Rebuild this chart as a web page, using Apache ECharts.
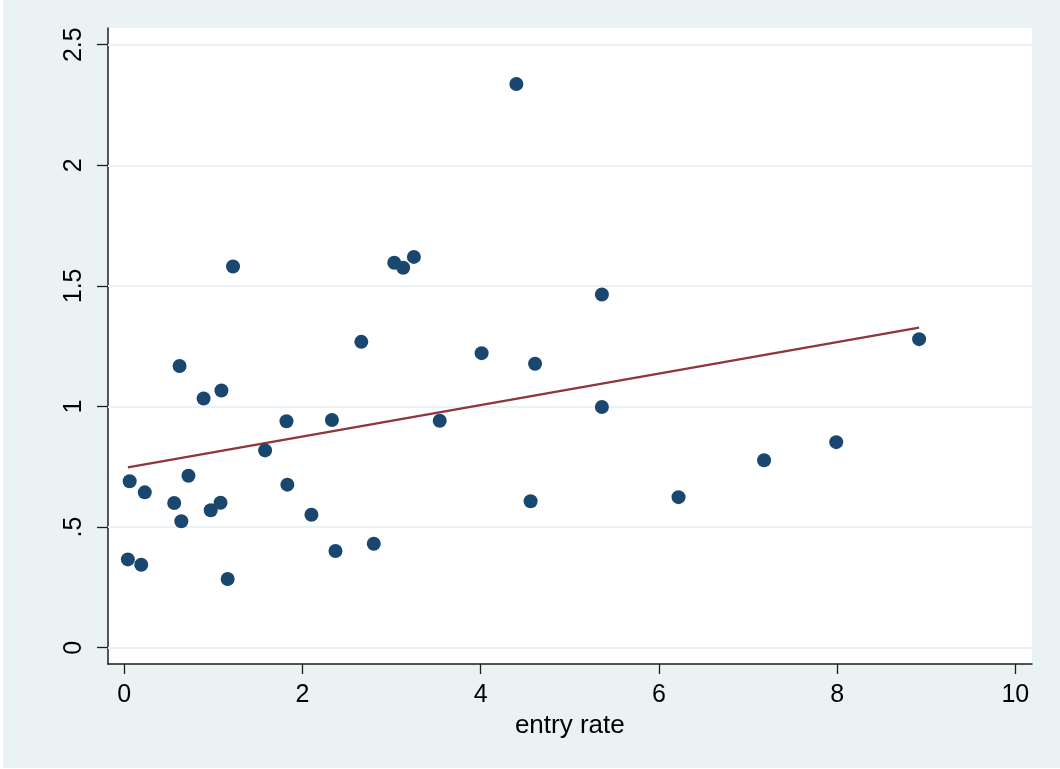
<!DOCTYPE html>
<html>
<head>
<meta charset="utf-8">
<script src="https://cdn.jsdelivr.net/npm/echarts@6/dist/echarts.min.js"></script>
<style>
html,body{margin:0;padding:0;background:#ffffff;}
#chart{position:absolute;left:3px;top:0;width:1057px;height:768px;}
</style>
</head>
<body>
<div id="chart"></div>
<script>
// Data
var entryRate = [0.04, 0.06, 0.19, 0.23, 0.56, 0.62, 0.64, 0.72, 0.89, 0.97, 1.08, 1.09, 1.16, 1.22, 1.58, 1.82, 1.83, 2.10, 2.33, 2.37, 2.66, 2.80, 3.03, 3.13, 3.25, 3.54, 4.01, 4.40, 4.56, 4.61, 5.36, 5.36, 6.22, 7.18, 7.99, 8.92];
var outcome   = [0.366, 0.690, 0.344, 0.644, 0.600, 1.168, 0.524, 0.713, 1.033, 0.570, 0.601, 1.066, 0.285, 1.580, 0.818, 0.939, 0.676, 0.551, 0.944, 0.401, 1.268, 0.431, 1.596, 1.575, 1.620, 0.941, 1.221, 2.337, 0.607, 1.177, 1.464, 0.998, 0.624, 0.777, 0.852, 1.279];
var fitX = [0.04, 8.92];
var fitY = [0.748, 1.327];
var xTicks = [0, 2, 4, 6, 8, 10];
var yTicks = [0, 0.5, 1, 1.5, 2, 2.5];
var yTickLabels = ['0', '.5', '1', '1.5', '2', '2.5'];
var xTitle = 'entry rate';

var points = entryRate.map(function (x, i) { return [x, outcome[i]]; });
var fitLine = fitX.map(function (x, i) { return [x, fitY[i]]; });

var FONT = '"Liberation Sans", Arial, sans-serif';
var BG = '#EAF2F3';
var AXIS = '#1e1e1e';

var chart = echarts.init(document.getElementById('chart'), null, {renderer: 'canvas'});
chart.setOption({
  backgroundColor: BG,
  animation: false,
  grid: [
    // data grid (plot region)
    {left: 105, right: 28, top: 28, bottom: 104, show: true, backgroundColor: '#ffffff', borderWidth: 0},
    // y tick grid
    {left: 105, right: 28, top: 44.7, bottom: 120.3},
    // x tick grid
    {left: 121.3, right: 44.7, top: 28, bottom: 104}
  ],
  xAxis: [
    {gridIndex: 0, type: 'value', min: -0.183, max: 10.187,
     axisLine: {show: true, onZero: false, lineStyle: {color: AXIS, width: 1.5}},
     axisTick: {show: false}, axisLabel: {show: false}, splitLine: {show: false}},
    {gridIndex: 1, type: 'value', min: 0, max: 10, show: false},
    {gridIndex: 2, type: 'value', min: 0, max: 10, interval: 2,
     name: xTitle, nameLocation: 'middle', nameGap: 44,
     nameTextStyle: {fontFamily: FONT, fontSize: 26, color: '#000'},
     axisLine: {show: false},
     axisTick: {show: true, length: 10, lineStyle: {color: AXIS, width: 1.3}},
     axisLabel: {show: true, margin: 19, fontFamily: FONT, fontSize: 25, color: '#000',
       formatter: function (v) { return xTicks.indexOf(v) >= 0 ? String(v) : ''; }},
     splitLine: {show: false}}
  ],
  yAxis: [
    {gridIndex: 0, type: 'value', min: -0.0676, max: 2.569,
     axisLine: {show: true, onZero: false, lineStyle: {color: AXIS, width: 1.5}},
     axisTick: {show: false}, axisLabel: {show: false}, splitLine: {show: false}},
    {gridIndex: 1, type: 'value', min: 0, max: 2.5, interval: 0.5,
     axisLine: {show: false},
     axisTick: {show: true, length: 11, lineStyle: {color: AXIS, width: 1.3}},
     axisLabel: {show: true, rotate: 90, margin: 21, fontFamily: FONT, fontSize: 25, color: '#000',
       formatter: function (v) {
         for (var i = 0; i < yTicks.length; i++) { if (Math.abs(yTicks[i] - v) < 1e-9) return yTickLabels[i]; }
         return '';
       }},
     splitLine: {show: true, lineStyle: {color: BG, width: 2}},
     z: 1},
    {gridIndex: 2, type: 'value', min: 0, max: 1, show: false}
  ],
  series: [
    {type: 'line', xAxisIndex: 0, yAxisIndex: 0, data: fitLine, symbol: 'none',
     lineStyle: {color: '#90353B', width: 2.3}, z: 3},
    {type: 'scatter', xAxisIndex: 0, yAxisIndex: 0, data: points, symbol: 'circle', symbolSize: 14,
     itemStyle: {color: '#1A476F', opacity: 1}, z: 4}
  ]
});
</script>
</body>
</html>
